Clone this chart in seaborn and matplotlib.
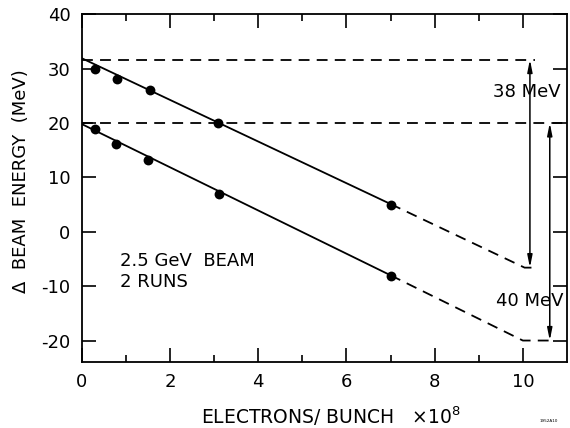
import numpy as np
import pandas as pd
import matplotlib
matplotlib.use("Agg")
import matplotlib.pyplot as plt
import seaborn as sns

# ---- data ----
run1_x = [0.30, 0.80, 1.55, 3.10, 7.02]
run1_y = [30.0, 28.0, 26.0, 20.0, 5.0]
run2_x = [0.31, 0.77, 1.50, 3.11, 7.00]
run2_y = [18.8, 16.1, 13.2, 7.0, -8.2]

# fitted lines: solid part (0 -> 7) and dashed extrapolation (7 -> 10)
fit1_solid_x = [0.0, 7.0]
fit1_solid_y = [31.9, 5.1]
fit1_dash_x = [7.0, 10.04, 10.2]
fit1_dash_y = [5.1, -6.6, -6.6]
fit2_solid_x = [0.0, 7.0]
fit2_solid_y = [19.8, -8.0]
fit2_dash_x = [7.0, 10.0, 10.72]
fit2_dash_y = [-8.0, -20.0, -20.0]

# reference levels
level1_y = 31.65
level1_x = [0.0, 10.27]
level2_y = 20.0
level2_x = [0.0, 11.0]

# energy differences
diff1_label = "38 MeV"
diff1_x = 10.16
diff1_range = [31.65, -6.6]
diff2_label = "40 MeV"
diff2_x = 10.61
diff2_range = [20.0, -20.0]

x_ticks = [0, 2, 4, 6, 8, 10]
y_ticks = [-20, -10, 0, 10, 20, 30, 40]

sns.set_theme(style="ticks")
plt.rcParams["font.family"] = ["DejaVu Sans"]
plt.rcParams["text.color"] = "black"
plt.rcParams["axes.labelcolor"] = "black"

fig = plt.figure(figsize=(5.70, 4.28), dpi=100)
ax = fig.add_axes([0.1433, 0.1535, 0.9947 - 0.1433, 0.967 - 0.1535])

dash = (0, (6, 4))
lw = 1.3

pts = pd.DataFrame({"x": run1_x + run2_x, "y": run1_y + run2_y,
                    "run": ["1"] * len(run1_x) + ["2"] * len(run2_x)})
sns.scatterplot(data=pts, x="x", y="y", color="black", s=50,
                edgecolor="black", linewidth=0, ax=ax, zorder=5, legend=False)

for xs, ys, ls in [(fit1_solid_x, fit1_solid_y, "-"), (fit2_solid_x, fit2_solid_y, "-"),
                   (fit1_dash_x, fit1_dash_y, dash), (fit2_dash_x, fit2_dash_y, dash)]:
    sns.lineplot(x=xs, y=ys, color="black", lw=lw, ax=ax, sort=False,
                 estimator=None, linestyle=ls)

ax.plot(level1_x, [level1_y, level1_y], color="black", lw=lw, linestyle=dash)
ax.plot(level2_x, [level2_y, level2_y], color="black", lw=lw, linestyle=dash)

arrow_kw = dict(arrowstyle="<|-|>,head_length=0.6,head_width=0.12",
                color="black", lw=1.1, shrinkA=0, shrinkB=0)
ax.annotate("", xy=(diff1_x, diff1_range[0]), xytext=(diff1_x, diff1_range[1]),
            arrowprops=arrow_kw)
ax.annotate("", xy=(diff2_x, diff2_range[0]), xytext=(diff2_x, diff2_range[1]),
            arrowprops=arrow_kw)
ax.text(10.1, 25.7, diff1_label, ha="center", va="center", fontsize=13)
ax.text(10.15, -12.7, diff2_label, ha="center", va="center", fontsize=13)

ax.text(0.87, -5.3, "2.5 GeV  BEAM", ha="left", va="center", fontsize=13)
ax.text(0.87, -9.3, "2 RUNS", ha="left", va="center", fontsize=13)

ax.set_xlim(0, 11)
ax.set_ylim(-24, 40)
ax.set_xticks(x_ticks)
ax.set_xticks([1, 3, 5, 7, 9], minor=True)
ax.set_yticks(y_ticks)
ax.set_xticklabels([str(v) for v in x_ticks])
ax.set_yticklabels([str(v) for v in y_ticks])
ax.tick_params(which="both", direction="in", top=True, right=True,
               colors="black", width=1.2, labelsize=13)
ax.tick_params(which="major", length=10, pad=8)
ax.tick_params(which="minor", length=5)
for sp in ax.spines.values():
    sp.set_color("black")
    sp.set_linewidth(1.3)

ax.set_xlabel("ELECTRONS/ BUNCH   \u00d710$^{8}$", fontsize=13.5, va="center")
ax.xaxis.set_label_coords(0.514, -0.155)
ax.set_ylabel("\u0394  BEAM  ENERGY  (MeV)", fontsize=13, va="center")
ax.yaxis.set_label_coords(-0.125, 0.519)

fig.text(0.962, 0.016, "1952A10", fontsize=3, ha="center", va="center")

fig.savefig("out.png", dpi=100, facecolor="white")
